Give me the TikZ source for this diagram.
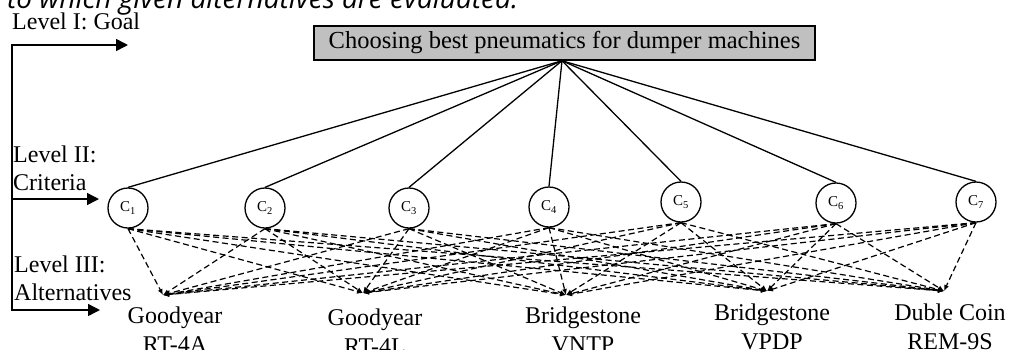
\documentclass[tikz,border=0pt]{standalone}
\usepackage{fontspec}
\setmainfont{Liberation Serif}
\newfontfamily\capfont{Open Sans}
\usetikzlibrary{arrows.meta}
\definecolor{boxgray}{HTML}{C0C0C0}
\begin{document}
\begin{tikzpicture}[x=1pt,y=-1pt,
  lbl/.style={font=\fontsize{24}{28}\selectfont, inner sep=0pt, anchor=base west},
  altlbl/.style={font=\fontsize{24}{28}\selectfont, inner sep=0pt, anchor=base},
  crit/.style={circle, draw, line width=1.3pt, minimum size=40pt, inner sep=0pt, font=\fontsize{15}{15}\selectfont},
  goalbox/.style={draw, line width=1.5pt, fill=boxgray, minimum width=501pt, minimum height=34pt, inner sep=0pt, font=\fontsize{24.5}{26}\selectfont},
  lvltip/.style={line width=1.5pt, line join=miter},
  tie/.style={line width=1.3pt},
  alt/.style={dash pattern=on 6pt off 3.5pt, line width=1.2pt, -{Latex[length=6pt,width=5pt]}},
]
\useasboundingbox (0,0) rectangle (1009,349);
\clip (0,0) rectangle (1009,349);

% caption fragment
\node[anchor=base west, inner sep=0pt, font=\capfont\itshape\fontsize{28}{28}\selectfont] (cap) at (7,8) {to which given alternatives are evaluated.};

% level labels
\node[lbl] (lv1) at (12,29) {Level I: Goal};
\node[lbl] (lv2a) at (13,162) {Level II:};
\node[lbl] (lv2b) at (13,190) {Criteria};
\node[lbl] (lv3a) at (14,272) {Level III:};
\node[lbl] (lv3b) at (14,300) {Alternatives};

% level arrows
\coordinate (ltop) at (12,45);
\coordinate (lmid) at (12,199);
\coordinate (lbot) at (12,310);
\coordinate (t1) at (128,45);
\coordinate (t2) at (99,199);
\coordinate (t3) at (100,310);
\draw[lvltip, {Triangle[length=12pt,width=12pt]}-{Triangle[length=12pt,width=12pt]}] (t1) -- (ltop) -- (lbot) -- (t3);
\draw[lvltip, -{Triangle[length=12pt,width=12pt]}] (lmid) -- (t2);

% goal
\node[goalbox] (goal) at (564.5,43) {Choosing best pneumatics for dumper machines};
\coordinate (apex) at ([xshift=-2.5pt]goal.south);

% criteria
\node[crit] (c1) at (128,208) {C\textsubscript{1}};
\node[crit] (c2) at (265,208) {C\textsubscript{2}};
\node[crit] (c3) at (409,208) {C\textsubscript{3}};
\node[crit] (c4) at (549,207) {C\textsubscript{4}};
\node[crit] (c5) at (681,202) {C\textsubscript{5}};
\node[crit] (c6) at (836,203) {C\textsubscript{6}};
\node[crit] (c7) at (976,202) {C\textsubscript{7}};

\foreach \i in {1,...,7} {\draw[tie] (apex) -- (c\i.north);}

% alternatives
\coordinate (a1) at (163,295);
\coordinate (a2) at (363,293);
\coordinate (a3) at (566,295);
\coordinate (a4) at (767,291);
\coordinate (a5) at (944,291);

\foreach \i in {1,...,7} {
  \foreach \j in {1,...,5} {
    \draw[alt] (c\i.south) -- (a\j);
  }
}

\node[altlbl] (l1a) at (175,323) {Goodyear};
\node[altlbl] (l1b) at (175,352) {RT-4A};
\node[altlbl] (l2a) at (375,325) {Goodyear};
\node[altlbl] (l2b) at (375,354) {RT-4L};
\node[altlbl] (l3a) at (583,323) {Bridgestone};
\node[altlbl] (l3b) at (583,352) {VNTP};
\node[altlbl] (l4a) at (772,320) {Bridgestone};
\node[altlbl] (l4b) at (772,349) {VPDP};
\node[altlbl] (l5a) at (950,320) {Duble Coin};
\node[altlbl] (l5b) at (950,349) {REM-9S};
\end{tikzpicture}
\end{document}
